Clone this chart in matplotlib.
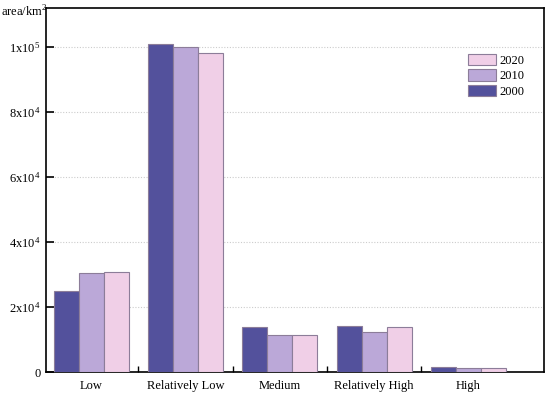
import numpy as np
from matplotlib import pyplot as plt
from matplotlib.ticker import FuncFormatter

plt.rcParams["font.family"] = ["Liberation Serif", "DejaVu Serif"]
plt.rcParams["mathtext.fontset"] = "custom"
plt.rcParams["mathtext.rm"] = "Liberation Serif"

categories = ["Low", "Relatively Low", "Medium", "Relatively High", "High"]
years = ["2000", "2010", "2020"]
area_2000 = [24800, 101000, 14000, 14100, 1400]
area_2010 = [30400, 100000, 11400, 12200, 1200]
area_2020 = [30700, 98300, 11300, 13900, 1200]
y_ticks = [0, 20000, 40000, 60000, 80000, 100000]

colors = ["#53519c", "#bba8d8", "#f0cfe7"]
edge = "#8c7d99"


def fmt(v, pos):
    if v == 0:
        return "0"
    exp = int(np.floor(np.log10(v)))
    mant = v / 10 ** exp
    return r"$\mathregular{%dx10^{%d}}$" % (round(mant), exp)


fig = plt.figure(figsize=(5.5, 3.95), dpi=100)
ax = fig.add_axes([0.0836, 0.0582, 0.9054, 0.9215])

x = np.arange(len(categories))
w = 0.265
series = [area_2000, area_2010, area_2020]
handles = []
for i, (vals, c) in enumerate(zip(series, colors)):
    h = ax.bar(x + (i - 1) * w, vals, width=w, color=c, edgecolor=edge,
               linewidth=0.8, zorder=3, label=years[i])
    handles.append(h)

ax.set_xlim(-0.48, 4.8)
ax.set_ylim(0, 112000)
ax.set_yticks(y_ticks)
ax.yaxis.set_major_formatter(FuncFormatter(fmt))
ax.set_xticks(x)
ax.set_xticklabels(categories)
ax.set_xticks(x[:-1] + 0.5, minor=True)
ax.tick_params(axis="x", which="major", length=0, labelsize=9, pad=6)
ax.tick_params(axis="x", which="minor", direction="in", length=4, width=1)
ax.tick_params(axis="y", direction="in", length=6, width=1.2, labelsize=9, pad=4)
for s in ax.spines.values():
    s.set_linewidth(1.2)

for t in y_ticks[1:]:
    ax.axhline(t, color="#cccccc", linestyle=(0, (1, 1.5)), linewidth=0.8, zorder=1)

ax.text(-0.09, 0.99, "area/km$^2$", transform=ax.transAxes, fontsize=9,
        ha="left", va="center")

ax.legend(handles[::-1], years[::-1], loc="upper right",
          bbox_to_anchor=(0.975, 0.895), frameon=False, fontsize=9,
          handlelength=2.25, handleheight=1.05, labelspacing=0.2,
          handletextpad=0.25, borderaxespad=0.2)

fig.savefig("out.png", dpi=100)
